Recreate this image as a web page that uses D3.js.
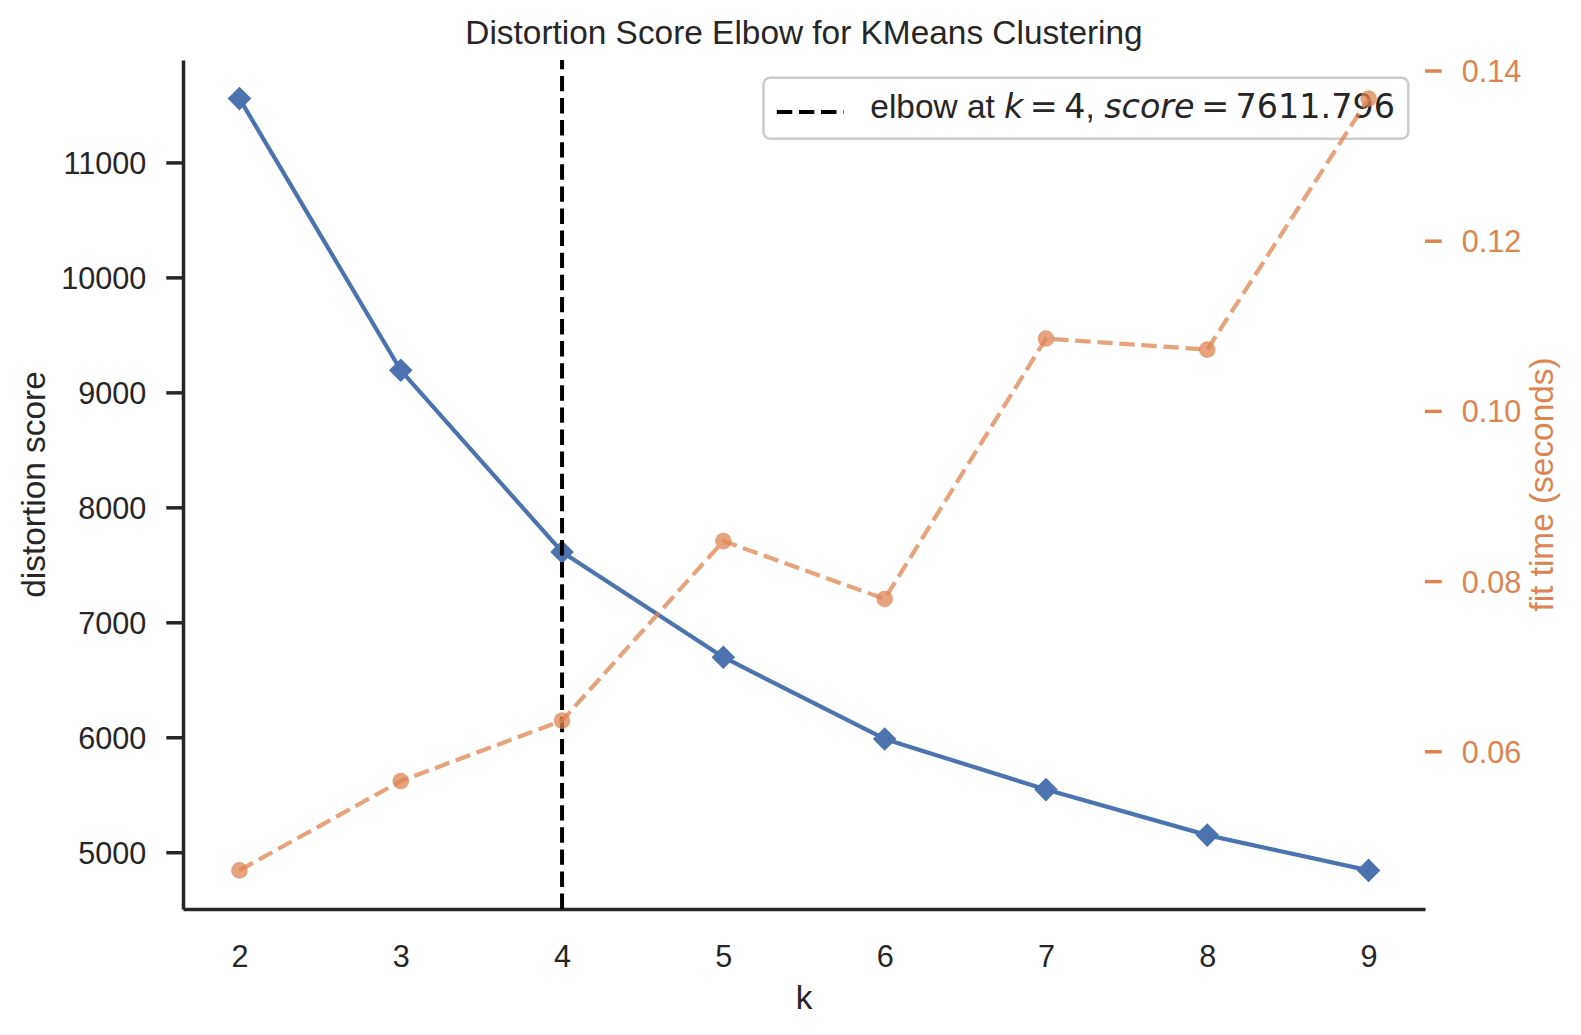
<!DOCTYPE html>
<html>
<head>
<meta charset="utf-8">
<script src="https://cdn.jsdelivr.net/npm/d3@7"></script>
<style>
  html, body { margin: 0; padding: 0; background: #ffffff; }
  svg { display: block; }
</style>
</head>
<body>
<svg id="chart" width="1581" height="1035"></svg>
<script>
// ---- data ----
const kValues = [2, 3, 4, 5, 6, 7, 8, 9];
const distortion = [11555, 9192, 7611.796, 6696, 5985, 5545, 5149, 4842];
const fitTime = [0.0460, 0.0565, 0.0636, 0.0847, 0.0779, 0.1085, 0.1072, 0.1367];
const leftTicks = [5000, 6000, 7000, 8000, 9000, 10000, 11000];
const rightTicks = [0.06, 0.08, 0.10, 0.12, 0.14];
const xTicks = [2, 3, 4, 5, 6, 7, 8, 9];
const elbowK = 4;
const elbowScore = 7611.796;

// ---- layout ----
const L = 183, R = 1425, T = 60, B = 909;
const BLUE = "#4C72B0", ORANGE = "#DD8452", DARK = "#262626";
const TICKFS = 30.6, LABELFS = 33.4;
const svg = d3.select("#chart");

function pad(ext) {
  const m = (ext[1] - ext[0]) * 0.05;
  return [ext[0] - m, ext[1] + m];
}
const x = d3.scaleLinear().domain(pad(d3.extent(kValues))).range([L, R]);
const yL = d3.scaleLinear().domain(pad(d3.extent(distortion))).range([B, T]);
const yR = d3.scaleLinear().domain(pad(d3.extent(fitTime))).range([B, T]);

// ---- axes ----
const gx = svg.append("g").attr("transform", `translate(0,${B})`)
  .call(d3.axisBottom(x).tickValues(xTicks).tickSize(0).tickSizeOuter(0).tickPadding(36.3).tickFormat(d3.format("d")));
gx.select(".domain").attr("stroke", DARK).attr("stroke-width", 3.5);
gx.selectAll("text").attr("font-family", "Liberation Sans, Arial, sans-serif")
  .attr("font-size", TICKFS).attr("fill", DARK);

const gl = svg.append("g").attr("transform", `translate(${L},0)`)
  .call(d3.axisLeft(yL).tickValues(leftTicks).tickSize(16.7).tickSizeOuter(0).tickPadding(20).tickFormat(d3.format("d")));
gl.select(".domain").attr("stroke", DARK).attr("stroke-width", 3.5);
gl.selectAll(".tick line").attr("stroke", DARK).attr("stroke-width", 3.5);
gl.selectAll("text").attr("font-family", "Liberation Sans, Arial, sans-serif")
  .attr("font-size", TICKFS).attr("fill", DARK).attr("dy", "0.36em");

const gr = svg.append("g").attr("transform", `translate(${R},0)`)
  .call(d3.axisRight(yR).tickValues(rightTicks).tickSize(16.7).tickSizeOuter(0).tickPadding(20).tickFormat(d3.format(".2f")));
gr.select(".domain").remove();
gr.selectAll(".tick line").attr("stroke", ORANGE).attr("stroke-width", 3.5);
gr.selectAll("text").attr("font-family", "Liberation Sans, Arial, sans-serif")
  .attr("font-size", TICKFS).attr("fill", ORANGE).attr("dy", "0.36em");

// ---- labels ----
svg.append("text").attr("x", (L + R) / 2).attr("y", 44).attr("text-anchor", "middle")
  .attr("font-family", "Liberation Sans, Arial, sans-serif").attr("font-size", LABELFS).attr("fill", DARK)
  .text("Distortion Score Elbow for KMeans Clustering");
svg.append("text").attr("x", (L + R) / 2).attr("y", 1009).attr("text-anchor", "middle")
  .attr("font-family", "Liberation Sans, Arial, sans-serif").attr("font-size", LABELFS).attr("fill", DARK)
  .text("k");
svg.append("text").attr("transform", `translate(45,${(T + B) / 2}) rotate(-90)`).attr("text-anchor", "middle")
  .attr("font-family", "Liberation Sans, Arial, sans-serif").attr("font-size", LABELFS).attr("fill", DARK)
  .text("distortion score");
svg.append("text").attr("transform", `translate(1553,${(T + B) / 2}) rotate(-90)`).attr("text-anchor", "middle")
  .attr("font-family", "Liberation Sans, Arial, sans-serif").attr("font-size", LABELFS).attr("fill", ORANGE)
  .text("fit time (seconds)");

// ---- distortion line ----
const lineL = d3.line().x((d, i) => x(kValues[i])).y(d => yL(d));
svg.append("path").datum(distortion).attr("d", lineL)
  .attr("fill", "none").attr("stroke", BLUE).attr("stroke-width", 4.2).attr("stroke-linejoin", "round");
const diamond = d3.symbol().type(d3.symbolSquare).size(16.7 * 16.7);
svg.append("g").selectAll("path").data(distortion).join("path")
  .attr("d", diamond)
  .attr("transform", (d, i) => `translate(${x(kValues[i])},${yL(d)}) rotate(45)`)
  .attr("fill", BLUE);

// ---- elbow line ----
svg.append("line").attr("x1", x(elbowK)).attr("x2", x(elbowK)).attr("y1", B).attr("y2", T)
  .attr("stroke", "#000").attr("stroke-width", 4).attr("stroke-dasharray", "15.4,6.7");

// ---- legend ----
const LFS = 33.4;
const SP = 6.5; // mathtext relation spacing
const leg = svg.append("g");
const legRect = leg.append("rect");
const legText = leg.append("text").attr("font-size", LFS).attr("fill", DARK)
  .attr("font-family", "Liberation Sans, Arial, sans-serif");
legText.append("tspan").text("elbow at ");
legText.append("tspan").attr("font-family", "DejaVu Sans").attr("font-style", "italic").text("k");
legText.append("tspan").attr("font-family", "DejaVu Sans").attr("dx", SP).text("=");
legText.append("tspan").attr("font-family", "DejaVu Sans").attr("dx", SP).text(String(elbowK));
legText.append("tspan").text(", ");
legText.append("tspan").attr("font-family", "DejaVu Sans").attr("font-style", "italic").text("score");
legText.append("tspan").attr("font-family", "DejaVu Sans").attr("dx", SP).text("=");
legText.append("tspan").attr("font-family", "DejaVu Sans").attr("dx", SP).text(elbowScore.toFixed(3));
const textW = legText.node().getComputedTextLength() + 4 * SP;
const bpad = 0.4 * LFS, hlen = 2.0 * LFS, htp = 0.8 * LFS;
const boxRight = R - 0.5 * LFS, boxTop = T + 0.5 * LFS;
const boxW = bpad + hlen + htp + textW + bpad;
const boxLeft = boxRight - boxW;
legRect.attr("x", boxLeft).attr("y", boxTop + 1).attr("width", boxW).attr("height", 61)
  .attr("rx", 6.7).attr("fill", "#ffffff").attr("fill-opacity", 0.8)
  .attr("stroke", "#cccccc").attr("stroke-width", 2.5);
leg.append("line").attr("x1", boxLeft + bpad).attr("x2", boxLeft + bpad + hlen)
  .attr("y1", 112).attr("y2", 112)
  .attr("stroke", "#000").attr("stroke-width", 4).attr("stroke-dasharray", "15.4,6.7");
legText.attr("x", boxLeft + bpad + hlen + htp).attr("y", 118);

// ---- fit time line (twin axes, drawn on top) ----
const lineR = d3.line().x((d, i) => x(kValues[i])).y(d => yR(d));
svg.append("path").datum(fitTime).attr("d", lineR)
  .attr("fill", "none").attr("stroke", ORANGE).attr("stroke-opacity", 0.75)
  .attr("stroke-width", 4.2).attr("stroke-dasharray", "15.4,6.7");
svg.append("g").selectAll("circle").data(fitTime).join("circle")
  .attr("cx", (d, i) => x(kValues[i])).attr("cy", d => yR(d)).attr("r", 8.3)
  .attr("fill", ORANGE).attr("fill-opacity", 0.75);
</script>
</body>
</html>
